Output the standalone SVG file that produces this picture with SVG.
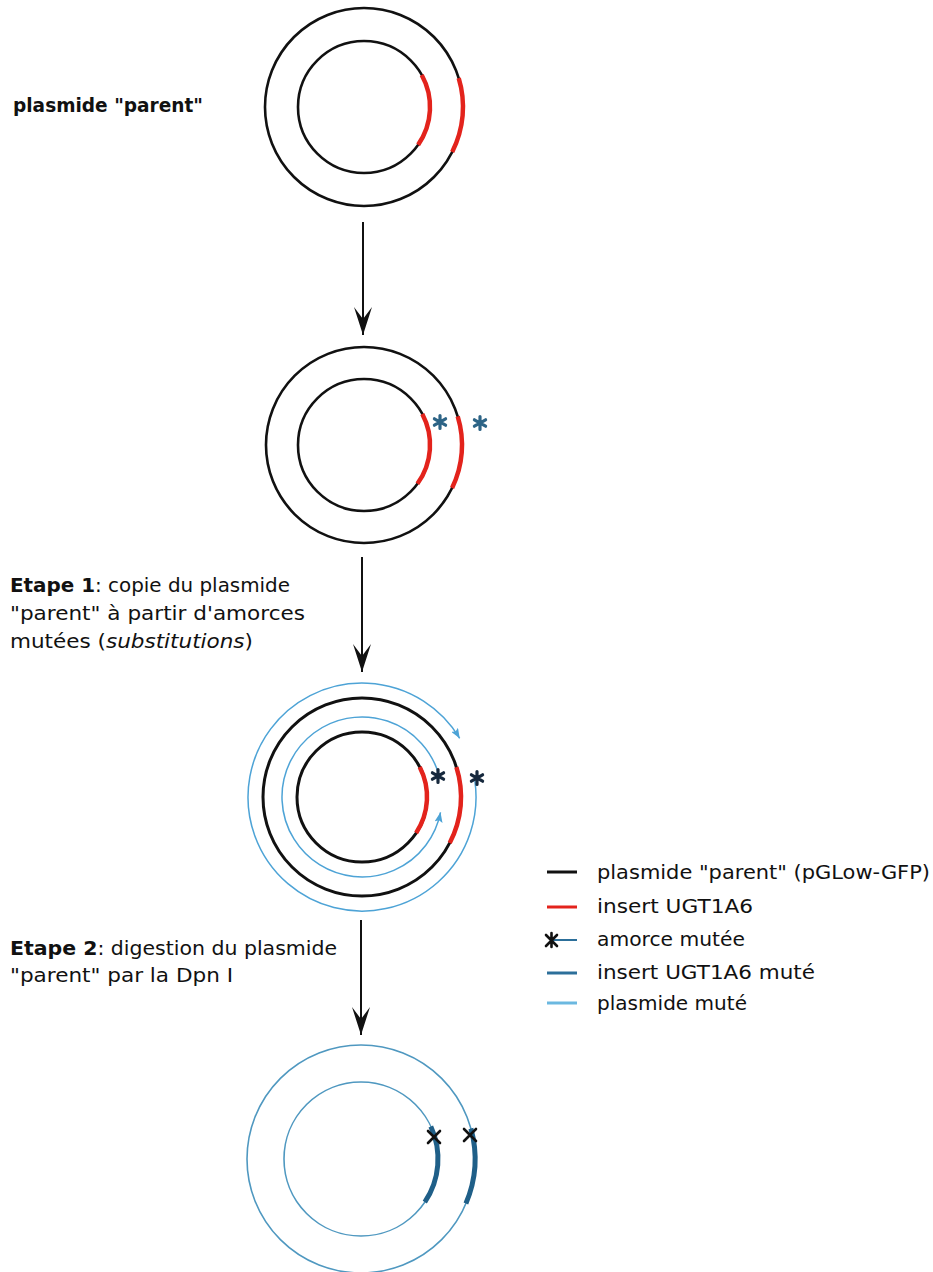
<svg xmlns="http://www.w3.org/2000/svg" width="933" height="1272" viewBox="0 0 933 1272">
<style>
.bk{fill:none;stroke:#111;stroke-width:2.6}
.bk3{fill:none;stroke:#111;stroke-width:3}
.red{fill:none;stroke:#e3231c;stroke-width:4.5;stroke-linecap:butt}
.lb{fill:none;stroke:#4da3d6;stroke-width:1.5}
.lb4{fill:none;stroke:#4f98c0;stroke-width:1.6}
.db{fill:none;stroke:#1f5f88;stroke-width:5}
.ast{fill:none;stroke:#2d6486;stroke-width:3.2;stroke-linecap:round}
.ast3{fill:none;stroke:#16283d;stroke-width:3.2;stroke-linecap:round}
.xm{fill:none;stroke:#111;stroke-width:2.6;stroke-linecap:round}
.arr{fill:none;stroke:#111;stroke-width:2}
text{font-family:"DejaVu Sans","Liberation Sans",sans-serif;font-size:20px;fill:#111}
.b{font-weight:bold}
</style>
<defs>
<marker id="vh" markerUnits="userSpaceOnUse" viewBox="0 0 28 18" refX="28" refY="9" markerWidth="28" markerHeight="18" orient="auto">
<path d="M28 9 L0 0 L12 9 L0 18 Z" fill="#111"/>
</marker>
<marker id="bh" markerUnits="userSpaceOnUse" viewBox="0 0 10 8" refX="10" refY="4" markerWidth="10" markerHeight="8" orient="auto">
<path d="M10 4 L0 0 L2 4 L0 8 Z" fill="#4da3d6"/>
</marker>
</defs>

<g id="labels">
<text x="13" y="112" class="b" textLength="190" lengthAdjust="spacingAndGlyphs">plasmide "parent"</text>
<text x="10" y="592" textLength="280" lengthAdjust="spacingAndGlyphs"><tspan class="b">Etape 1</tspan>: copie du plasmide</text>
<text x="10" y="620" textLength="295" lengthAdjust="spacingAndGlyphs">"parent" à partir d'amorces</text>
<text x="10" y="648" textLength="243" lengthAdjust="spacingAndGlyphs">mutées (<tspan font-style="italic">substitutions</tspan>)</text>
<text x="10" y="955" textLength="327" lengthAdjust="spacingAndGlyphs"><tspan class="b">Etape 2</tspan>: digestion du plasmide</text>
<text x="10" y="982" textLength="223" lengthAdjust="spacingAndGlyphs">"parent" par la Dpn I</text>
</g>

<g id="plasmid1">
<circle cx="364" cy="107" r="99" class="bk"/>
<circle cx="364" cy="107" r="66" class="bk"/>
<path class="red" d="M458.7 78.1 A99 99 0 0 1 452.2 151.9"/>
<path class="red" d="M421.7 75.0 A66 66 0 0 1 418.1 144.9"/>
</g>

<g id="plasmid2">
<circle cx="364" cy="445" r="98" class="bk"/>
<circle cx="364" cy="445" r="66" class="bk"/>
<path class="red" d="M457.7 416.3 A98 98 0 0 1 452.1 488.0"/>
<path class="red" d="M422.3 414.0 A66 66 0 0 1 417.4 483.8"/>
<path class="ast" d="M440 415.5 V428.5 M434.4 418.8 L445.6 425.2 M434.4 425.2 L445.6 418.8"/>
<path class="ast" d="M480 416.5 V429.5 M474.4 419.8 L485.6 426.2 M474.4 426.2 L485.6 419.8"/>
</g>

<g id="plasmid3">
<circle cx="362" cy="797" r="99" class="bk3"/>
<circle cx="362" cy="797" r="65" class="bk3"/>
<path class="red" d="M456.4 767.1 A99 99 0 0 1 449.7 843.0"/>
<path class="red" d="M419.7 767.0 A65 65 0 0 1 416.1 833.0"/>
<path class="lb" d="M474.9 781.1 A114 114 0 1 1 459.7 738.3" marker-end="url(#bh)"/>
<path class="lb" d="M438.9 774.9 A80 80 0 1 0 440.5 812.3" marker-end="url(#bh)"/>
<path class="ast3" d="M438 769.5 V782.5 M432.4 772.8 L443.6 779.2 M432.4 779.2 L443.6 772.8"/>
<path class="ast3" d="M477 771.5 V784.5 M471.4 774.8 L482.6 781.2 M471.4 781.2 L482.6 774.8"/>
</g>

<g id="plasmid4">
<circle cx="361" cy="1159" r="114" class="lb4"/>
<circle cx="361" cy="1159" r="77" class="lb4"/>
<path class="db" d="M470.9 1128.5 A114 114 0 0 1 465.9 1203.5"/>
<path class="db" d="M430.8 1126.5 A77 77 0 0 1 424.8 1202.1"/>
<path class="xm" d="M428 1131 L440 1143 M440 1131 L428 1143"/>
<path class="xm" d="M464 1129 L476 1141 M476 1129 L464 1141"/>
</g>

<g id="legend">
<line x1="547" y1="872" x2="577" y2="872" stroke="#111" stroke-width="3"/>
<text x="597" y="879" textLength="333" lengthAdjust="spacingAndGlyphs">plasmide "parent" (pGLow-GFP)</text>
<line x1="547" y1="907" x2="577" y2="907" stroke="#e3231c" stroke-width="3"/>
<text x="597" y="913" textLength="156" lengthAdjust="spacingAndGlyphs">insert UGT1A6</text>
<line x1="552" y1="940" x2="577" y2="940" stroke="#2c6f9a" stroke-width="2"/>
<path class="xm" d="M546 935 L557 946 M557 935 L546 946 M551.5 933 V947"/>
<text x="597" y="946" textLength="148" lengthAdjust="spacingAndGlyphs">amorce mutée</text>
<line x1="547" y1="973" x2="577" y2="973" stroke="#2c6f9a" stroke-width="3"/>
<text x="597" y="979" textLength="218" lengthAdjust="spacingAndGlyphs">insert UGT1A6 muté</text>
<line x1="547" y1="1003" x2="577" y2="1003" stroke="#6bb8e0" stroke-width="3"/>
<text x="597" y="1010" textLength="150" lengthAdjust="spacingAndGlyphs">plasmide muté</text>
</g>

<g id="connectors">
<line class="arr" x1="363" y1="222" x2="363" y2="335" marker-end="url(#vh)"/>
<line class="arr" x1="362" y1="557" x2="362" y2="672" marker-end="url(#vh)"/>
<line class="arr" x1="361" y1="920" x2="361" y2="1035" marker-end="url(#vh)"/>
</g>
</svg>
